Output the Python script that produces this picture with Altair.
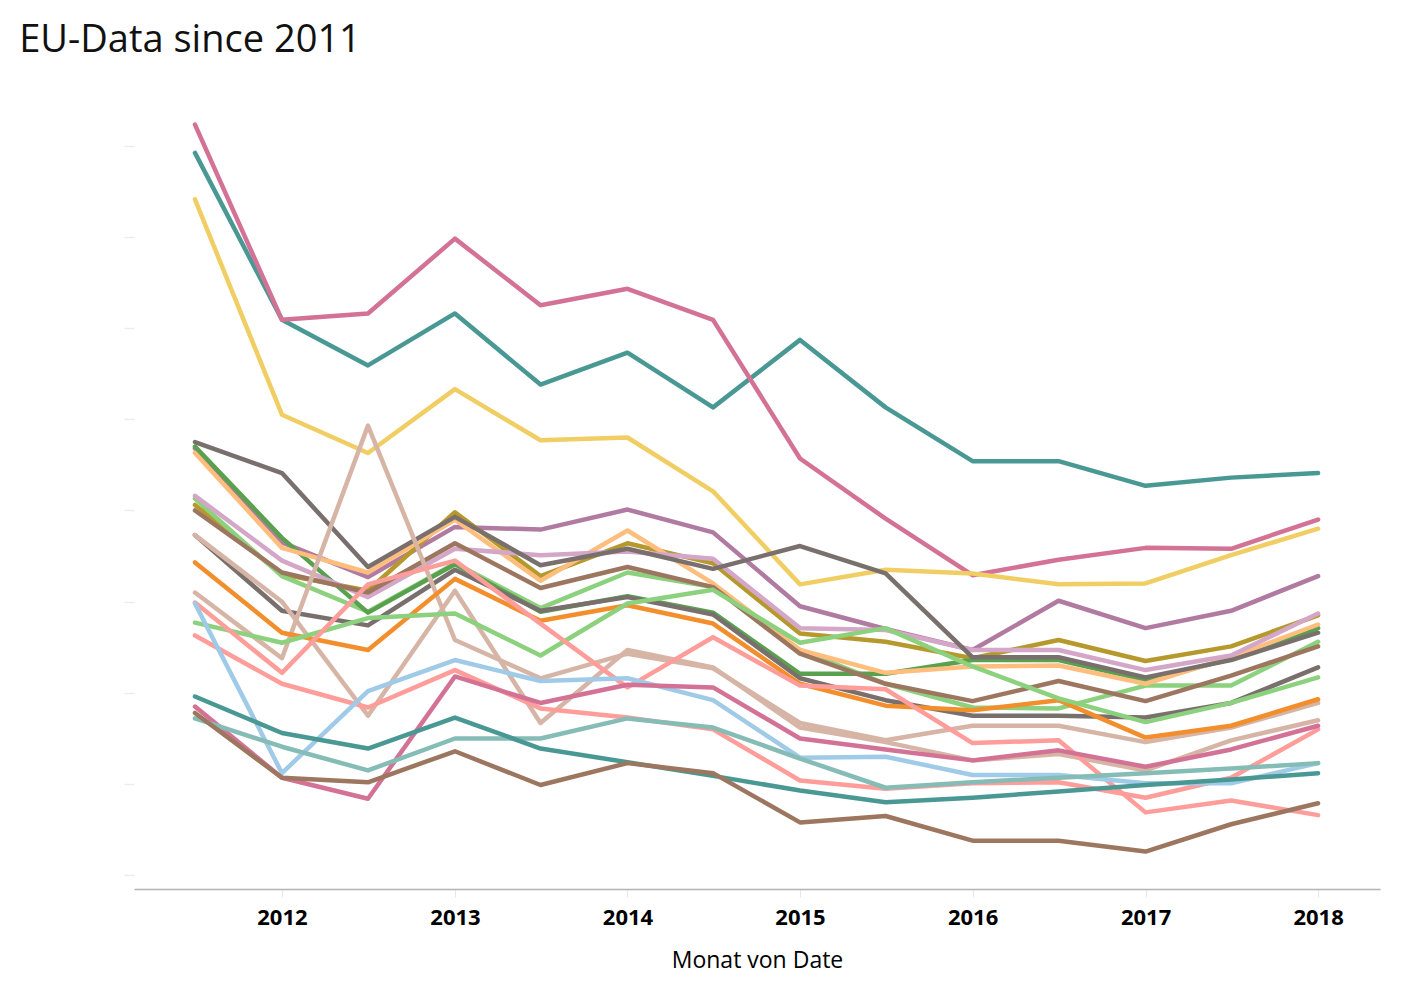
import altair as alt
import pandas as pd

# Half-yearly observation dates
dates = ["2011/07/01", "2012/01/01", "2012/07/01", "2013/01/01", "2013/07/01",
         "2014/01/01", "2014/07/01", "2015/01/01", "2015/07/01", "2016/01/01",
         "2016/07/01", "2017/01/01", "2017/07/01", "2018/01/01"]

year_ticks = [2012, 2013, 2014, 2015, 2016, 2017, 2018]

# Series values (arbitrary units)
s01 = [79.2, 60.9, 55.9, 61.6, 53.8, 57.3, 51.3, 58.7, 51.3, 45.4, 45.4, 42.7, 43.6, 44.1]   # teal
s02 = [82.3, 60.9, 61.6, 69.8, 62.5, 64.3, 60.9, 45.7, 39.1, 32.9, 34.6, 35.9, 35.8, 39.0]   # pink
s03 = [74.1, 50.5, 46.3, 53.3, 47.7, 48.0, 42.1, 31.9, 33.5, 33.1, 31.9, 32.0, 35.1, 38.0]   # yellow
s04 = [46.8, 36.5, 32.7, 38.2, 37.9, 40.1, 37.6, 29.5, 27.0, 24.7, 30.1, 27.1, 29.0, 32.8]   # purple
s05 = [40.6, 33.0, 31.2, 39.8, 32.8, 36.4, 34.2, 26.5, 25.6, 23.8, 25.8, 23.5, 25.1, 28.5]   # olive
s06 = [41.3, 32.8, 28.9, 34.2, 29.3, 33.2, 31.6, 24.7, 21.0, 18.4, 18.3, 20.8, 20.8, 25.6]   # light green B
s07 = [47.0, 37.0, 28.8, 34.1, 28.9, 30.6, 28.8, 22.1, 22.1, 23.6, 23.6, 21.4, 23.7, 27.1]   # green
s08 = [46.3, 35.9, 33.2, 39.0, 32.3, 37.8, 32.0, 24.7, 22.2, 22.9, 23.0, 21.0, 23.9, 27.5]   # light orange
s09 = [41.6, 34.5, 30.5, 35.8, 35.1, 35.5, 34.7, 27.1, 26.9, 24.7, 24.7, 22.5, 24.1, 28.7]   # light purple
s10 = [40.0, 33.2, 31.0, 36.4, 31.5, 33.8, 31.6, 24.3, 21.0, 19.1, 21.3, 19.1, 21.9, 25.1]   # brown A
s11 = [47.5, 44.1, 33.8, 39.3, 34.0, 35.8, 33.6, 36.1, 33.1, 23.9, 23.9, 21.7, 23.6, 26.6]   # gray A
s12 = [37.3, 29.0, 27.4, 33.5, 29.0, 30.5, 28.6, 21.6, 19.2, 17.5, 17.5, 17.3, 18.9, 22.8]   # gray B
s13 = [31.0, 23.8, 49.3, 25.8, 21.6, 24.3, 22.7, 16.7, 14.8, 16.4, 16.4, 14.6, 16.2, 18.9]   # tan A
s14 = [37.3, 30.0, 17.5, 31.2, 16.7, 24.7, 22.8, 16.2, 14.6, 12.6, 13.3, 11.5, 14.8, 17.0]   # tan B
s15 = [34.3, 26.6, 24.7, 32.5, 27.9, 29.6, 27.6, 21.0, 18.6, 18.1, 19.2, 15.1, 16.4, 19.3]   # orange
s16 = [27.7, 25.5, 28.2, 28.7, 24.1, 29.8, 31.3, 25.5, 27.1, 22.9, 19.4, 16.8, 18.9, 21.7]   # light green A
s17 = [29.9, 22.2, 31.9, 34.5, 27.6, 20.6, 26.1, 20.8, 20.4, 14.5, 14.8, 6.9, 8.2, 6.6]      # light red A
s18 = [26.3, 21.0, 18.4, 22.5, 18.3, 17.3, 16.0, 10.4, 9.5, 10.1, 10.2, 8.5, 10.7, 16.0]     # light red B
s19 = [29.8, 11.2, 20.2, 23.6, 21.3, 21.6, 19.2, 12.9, 13.0, 11.0, 11.0, 10.1, 10.1, 12.3]   # light blue
s20 = [18.5, 10.7, 8.4, 21.8, 18.9, 20.9, 20.6, 15.0, 13.8, 12.6, 13.7, 11.9, 13.8, 16.4]    # pink B
s21 = [17.2, 14.1, 11.5, 15.0, 15.0, 17.2, 16.2, 12.8, 9.6, 10.2, 10.7, 11.2, 11.7, 12.3]    # light teal
s22 = [19.6, 15.6, 13.9, 17.3, 13.9, 12.4, 10.9, 9.3, 8.0, 8.5, 9.2, 9.9, 10.5, 11.2]        # teal B
s23 = [17.8, 10.7, 10.2, 13.6, 9.9, 12.3, 11.2, 5.8, 6.5, 3.8, 3.8, 2.6, 5.6, 7.9]           # brown B

series = [s01, s02, s03, s04, s05, s06, s07, s08, s09, s10, s11, s12,
          s13, s14, s15, s16, s17, s18, s19, s20, s21, s22, s23]
names = ["S%02d" % (i + 1) for i in range(len(series))]
colors = ["#499894", "#D37295", "#F1CE63", "#B07AA1", "#B6992D", "#8CD17D",
          "#59A14F", "#FFBE7D", "#D4A6C8", "#9D7660", "#79706E", "#79706E",
          "#D7B5A6", "#D7B5A6", "#F28E2B", "#8CD17D", "#FF9D9A", "#FF9D9A",
          "#A0CBE8", "#D37295", "#86BCB6", "#499894", "#9D7660"]

rows = []
for name, vals in zip(names, series):
    for d, v in zip(dates, vals):
        rows.append({"Serie": name, "Date": d, "Wert": v})
df = pd.DataFrame(rows)

FONT = "Open Sans"

chart = alt.Chart(df).mark_line(
    strokeWidth=4.5, strokeJoin="round", strokeCap="round"
).encode(
    x=alt.X(
        "Date:T",
        title="Monat von Date",
        scale=alt.Scale(domain=[alt.DateTime(year=2011, month=2, date=22),
                                alt.DateTime(year=2018, month=5, date=12)]),
        axis=alt.Axis(
            values=[alt.DateTime(year=y, month=1, date=1) for y in year_ticks],
            format="%Y",
            labelFont=FONT, labelFontSize=22, labelFontWeight="bold",
            labelColor="#000000", labelPadding=10,
            ticks=True, tickColor="#e8e8e8", tickSize=8,
            domainColor="#b3b3b3", domainWidth=1.5,
            titleFont=FONT, titleFontSize=23, titleFontWeight="normal",
            titleColor="#000000", titlePadding=21,
            grid=False,
        ),
    ),
    y=alt.Y(
        "Wert:Q",
        title=None,
        scale=alt.Scale(domain=[-1.5, 85], nice=False, zero=False),
        axis=alt.Axis(
            values=[0, 10, 20, 30, 40, 50, 60, 70, 80],
            labels=False, domain=False, grid=False,
            ticks=True, tickColor="#ececec", tickSize=10, tickWidth=1.5,
        ),
    ),
    color=alt.Color("Serie:N", scale=alt.Scale(domain=names, range=colors), legend=None),
).properties(
    width=1246,
    height=789,
    title=alt.TitleParams(
        "EU-Data since 2011", anchor="start", font=FONT, fontSize=38,
        fontWeight="normal", color="#111111", dx=-104, offset=40,
    ),
    autosize=alt.AutoSizeParams(type="none"),
    padding={"left": 126, "top": 92, "right": 20, "bottom": 100},
).configure_view(stroke=None)

chart.save("out.html", embed_options={"renderer": "svg", "actions": False})
